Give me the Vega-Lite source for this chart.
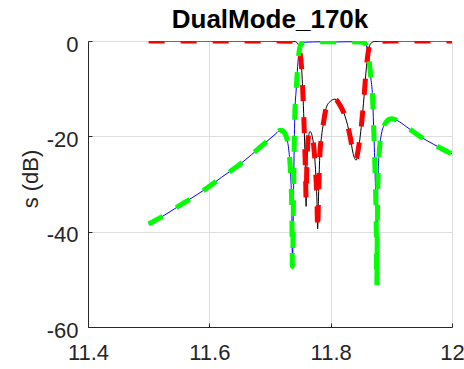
{
  "$schema": "https://vega.github.io/schema/vega-lite/v6.json",
  "width": 364,
  "height": 286,
  "autosize": {"type": "none"},
  "padding": {"left": 88, "top": 41, "right": 12, "bottom": 42},
  "background": "white",
  "title": {"text": "DualMode_170k", "fontSize": 26, "font": "Liberation Sans", "fontWeight": "bold", "color": "#000000", "anchor": "middle", "frame": "group", "baseline": "alphabetic", "offset": 11.5, "dy": 32},
  "config": {
    "view": {"stroke": null},
    "axis": {
      "labelFont": "Liberation Sans", "labelFontSize": 22, "labelColor": "#262626",
      "titleFont": "Liberation Sans", "titleFontSize": 22, "titleColor": "#262626", "titleFontWeight": "normal",
      "domainColor": "#262626", "domainWidth": 1, "tickColor": "#262626", "tickWidth": 1,
      "gridColor": "#dedede", "gridWidth": 1
    }
  },
  "datasets": {
    "s11meas": [
      {"f": 11.5, "s": 0}, {"f": 11.6, "s": 0}, {"f": 11.7, "s": -0.02}, {"f": 11.735, "s": -0.05},
      {"f": 11.742, "s": -0.15}, {"f": 11.746, "s": -0.6}, {"f": 11.749, "s": -2.0}, {"f": 11.752, "s": -5.5},
      {"f": 11.755, "s": -13.5}, {"f": 11.757, "s": -21}, {"f": 11.7585, "s": -28}, {"f": 11.7595, "s": -34.7},
      {"f": 11.7605, "s": -28}, {"f": 11.7615, "s": -24}, {"f": 11.763, "s": -20.5}, {"f": 11.766, "s": -19},
      {"f": 11.769, "s": -19.7}, {"f": 11.772, "s": -22}, {"f": 11.775, "s": -27}, {"f": 11.7775, "s": -34},
      {"f": 11.7785, "s": -39.4}, {"f": 11.78, "s": -32.7}, {"f": 11.782, "s": -24.3}, {"f": 11.785, "s": -20},
      {"f": 11.788, "s": -17.3}, {"f": 11.793, "s": -13.9}, {"f": 11.8, "s": -12.6}, {"f": 11.807, "s": -12.2},
      {"f": 11.815, "s": -13.4}, {"f": 11.824, "s": -15.9}, {"f": 11.832, "s": -20}, {"f": 11.837, "s": -23.6},
      {"f": 11.842, "s": -25}, {"f": 11.8455, "s": -22.9}, {"f": 11.851, "s": -17.3}, {"f": 11.855, "s": -11.7},
      {"f": 11.859, "s": -5.4}, {"f": 11.8635, "s": -1.3}, {"f": 11.867, "s": -0.4}, {"f": 11.872, "s": -0.1},
      {"f": 11.9, "s": 0}, {"f": 12.0, "s": 0}
    ],
    "s21meas": [
      {"f": 11.5, "s": -38.4}, {"f": 11.52, "s": -37.0}, {"f": 11.55, "s": -34.6}, {"f": 11.58, "s": -32.2},
      {"f": 11.6, "s": -30.5}, {"f": 11.62, "s": -28.6}, {"f": 11.65, "s": -25.9}, {"f": 11.67, "s": -23.8},
      {"f": 11.69, "s": -21.6}, {"f": 11.7, "s": -20.5}, {"f": 11.71, "s": -19.4}, {"f": 11.716, "s": -18.8},
      {"f": 11.72, "s": -18.8}, {"f": 11.724, "s": -19.3}, {"f": 11.728, "s": -20.6}, {"f": 11.731, "s": -22.9},
      {"f": 11.734, "s": -28}, {"f": 11.736, "s": -36}, {"f": 11.737, "s": -47.3}, {"f": 11.7385, "s": -35},
      {"f": 11.7395, "s": -25.6}, {"f": 11.741, "s": -15.1}, {"f": 11.743, "s": -10.5}, {"f": 11.744, "s": -8.5},
      {"f": 11.746, "s": -4.5}, {"f": 11.748, "s": -2.2}, {"f": 11.75, "s": -1.0}, {"f": 11.753, "s": -0.4},
      {"f": 11.758, "s": -0.25}, {"f": 11.77, "s": -0.2}, {"f": 11.79, "s": -0.15}, {"f": 11.81, "s": -0.2},
      {"f": 11.83, "s": -0.15}, {"f": 11.85, "s": -0.2}, {"f": 11.855, "s": -0.35}, {"f": 11.858, "s": -0.7},
      {"f": 11.861, "s": -2.2}, {"f": 11.864, "s": -4.8}, {"f": 11.866, "s": -7.5}, {"f": 11.869, "s": -11.7},
      {"f": 11.871, "s": -18.7}, {"f": 11.8735, "s": -29}, {"f": 11.875, "s": -38}, {"f": 11.876, "s": -51.2},
      {"f": 11.877, "s": -38}, {"f": 11.878, "s": -29}, {"f": 11.88, "s": -23.5}, {"f": 11.884, "s": -19.3},
      {"f": 11.888, "s": -17.7}, {"f": 11.892, "s": -16.9}, {"f": 11.897, "s": -16.4}, {"f": 11.901, "s": -16.3},
      {"f": 11.91, "s": -16.7}, {"f": 11.925, "s": -18}, {"f": 11.947, "s": -20}, {"f": 11.97, "s": -21.7},
      {"f": 12.0, "s": -23.7}
    ],
    "s11sim": [
      {"f": 11.5, "s": 0}, {"f": 11.6, "s": 0}, {"f": 11.7, "s": -0.02}, {"f": 11.735, "s": -0.05},
      {"f": 11.742, "s": -0.15}, {"f": 11.746, "s": -0.6}, {"f": 11.749, "s": -2.0}, {"f": 11.752, "s": -5.5},
      {"f": 11.755, "s": -13.5}, {"f": 11.757, "s": -21}, {"f": 11.7585, "s": -27.5}, {"f": 11.7595, "s": -33},
      {"f": 11.7605, "s": -27.5}, {"f": 11.7615, "s": -23.5}, {"f": 11.763, "s": -20.3}, {"f": 11.766, "s": -19},
      {"f": 11.769, "s": -19.7}, {"f": 11.772, "s": -22}, {"f": 11.775, "s": -27}, {"f": 11.7775, "s": -34},
      {"f": 11.7785, "s": -39.6}, {"f": 11.78, "s": -32.7}, {"f": 11.782, "s": -24.3}, {"f": 11.785, "s": -20},
      {"f": 11.788, "s": -17.3}, {"f": 11.793, "s": -13.9}, {"f": 11.8, "s": -12.6}, {"f": 11.807, "s": -12.2},
      {"f": 11.815, "s": -13.4}, {"f": 11.824, "s": -15.9}, {"f": 11.832, "s": -20}, {"f": 11.837, "s": -23.4},
      {"f": 11.842, "s": -24.7}, {"f": 11.8455, "s": -22.7}, {"f": 11.851, "s": -17.3}, {"f": 11.855, "s": -11.7},
      {"f": 11.859, "s": -5.4}, {"f": 11.8635, "s": -1.3}, {"f": 11.867, "s": -0.4}, {"f": 11.872, "s": -0.1},
      {"f": 11.9, "s": 0}, {"f": 12.0, "s": 0}
    ],
    "s21sim": [
      {"f": 11.5, "s": -38.4}, {"f": 11.52, "s": -37.0}, {"f": 11.55, "s": -34.6}, {"f": 11.58, "s": -32.2},
      {"f": 11.6, "s": -30.5}, {"f": 11.62, "s": -28.6}, {"f": 11.65, "s": -25.9}, {"f": 11.67, "s": -23.8},
      {"f": 11.69, "s": -21.6}, {"f": 11.7, "s": -20.5}, {"f": 11.71, "s": -19.4}, {"f": 11.716, "s": -18.8},
      {"f": 11.72, "s": -18.8}, {"f": 11.724, "s": -19.3}, {"f": 11.728, "s": -20.6}, {"f": 11.731, "s": -22.9},
      {"f": 11.734, "s": -28}, {"f": 11.736, "s": -36}, {"f": 11.737, "s": -47.3}, {"f": 11.7385, "s": -35},
      {"f": 11.7395, "s": -25.6}, {"f": 11.741, "s": -15.1}, {"f": 11.743, "s": -10.5}, {"f": 11.744, "s": -8.5},
      {"f": 11.746, "s": -4.5}, {"f": 11.748, "s": -2.2}, {"f": 11.75, "s": -1.0}, {"f": 11.753, "s": -0.4},
      {"f": 11.758, "s": -0.25}, {"f": 11.77, "s": -0.2}, {"f": 11.79, "s": -0.15}, {"f": 11.81, "s": -0.2},
      {"f": 11.83, "s": -0.15}, {"f": 11.85, "s": -0.2}, {"f": 11.855, "s": -0.35}, {"f": 11.858, "s": -0.7},
      {"f": 11.861, "s": -2.2}, {"f": 11.864, "s": -4.8}, {"f": 11.866, "s": -7.5}, {"f": 11.869, "s": -11.7},
      {"f": 11.871, "s": -18.7}, {"f": 11.8735, "s": -29}, {"f": 11.875, "s": -38}, {"f": 11.876, "s": -51.2},
      {"f": 11.877, "s": -38}, {"f": 11.878, "s": -29}, {"f": 11.88, "s": -23.5}, {"f": 11.884, "s": -19.3},
      {"f": 11.888, "s": -17.7}, {"f": 11.892, "s": -16.9}, {"f": 11.897, "s": -16.4}, {"f": 11.901, "s": -16.3},
      {"f": 11.91, "s": -16.7}, {"f": 11.925, "s": -18}, {"f": 11.947, "s": -20}, {"f": 11.97, "s": -21.7},
      {"f": 12.0, "s": -23.7}
    ]
  },
  "encoding": {
    "x": {
      "field": "f", "type": "quantitative",
      "scale": {"domain": [11.4, 12], "nice": false, "zero": false},
      "axis": {"values": [11.4, 11.6, 11.8, 12], "labelExpr": "toString(datum.value)", "title": null, "tickSize": -4, "labelPadding": 19, "labelFlush": false}
    },
    "y": {
      "field": "s", "type": "quantitative",
      "scale": {"domain": [-60, 0], "nice": false, "zero": false},
      "axis": {"values": [-60, -40, -20, 0], "labelExpr": "toString(datum.value)", "title": "s (dB)", "tickSize": -4, "labelPadding": 14, "labelOffset": 3, "titlePadding": 4, "titleY": 137.5}
    }
  },
  "layer": [
    {"data": {"name": "s11meas"}, "mark": {"type": "line", "color": "#000000", "strokeWidth": 1, "interpolate": "monotone", "clip": true}},
    {"data": {"name": "s21meas"}, "mark": {"type": "line", "color": "#0000ff", "strokeWidth": 1, "interpolate": "monotone", "clip": true}},
    {"data": {"name": "s11sim"}, "mark": {"type": "line", "color": "#ff0000", "strokeWidth": 5, "strokeDash": [16, 16], "interpolate": "monotone", "clip": true}},
    {"data": {"name": "s21sim"}, "mark": {"type": "line", "color": "#00ff00", "strokeWidth": 5, "strokeDash": [16, 16], "interpolate": "monotone", "clip": true}}
  ]
}
